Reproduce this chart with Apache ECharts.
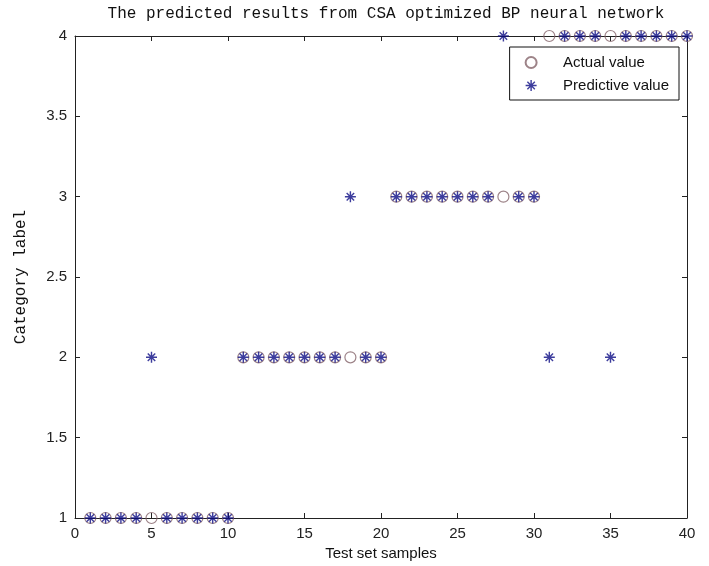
<!DOCTYPE html>
<html>
<head>
<meta charset="utf-8">
<script src="https://cdn.jsdelivr.net/npm/echarts@6/dist/echarts.min.js"></script>
<style>html,body{margin:0;padding:0;background:#fff}#c{width:709px;height:566px}</style>
</head>
<body>
<div id="c"></div>
<script>
var samples = [1,2,3,4,5,6,7,8,9,10,11,12,13,14,15,16,17,18,19,20,21,22,23,24,25,26,27,28,29,30,31,32,33,34,35,36,37,38,39,40];
var actualValues = [1,1,1,1,1,1,1,1,1,1, 2,2,2,2,2,2,2,2,2,2, 3,3,3,3,3,3,3,3,3,3, 4,4,4,4,4,4,4,4,4,4];
var predictedValues = [1,1,1,1,2,1,1,1,1,1, 2,2,2,2,2,2,2,3,2,2, 3,3,3,3,3,3,3,4,3,3, 2,4,4,4,2,4,4,4,4,4];
var titleText = 'The predicted results from CSA optimized BP neural network';
var xName = 'Test set samples';
var yName = 'Category label';
var seriesNames = ['Actual value', 'Predictive value'];

var star = 'path://M0,8.7L20,8.7L20,11.3L0,11.3Z M8.7,0L11.3,0L11.3,20L8.7,20Z M4.1,2.3L17.7,15.9L15.9,17.7L2.3,4.1Z M15.9,2.3L17.7,4.1L4.1,17.7L2.3,15.9Z M7.5,7.5L12.5,7.5L12.5,12.5L7.5,12.5Z';
var axisColor = '#222';
var tickFont = {color: '#222', fontFamily: 'Liberation Sans', fontSize: 15};

var chart = echarts.init(document.getElementById('c'), null, {renderer: 'canvas'});
chart.setOption({
  animation: false,
  backgroundColor: '#fff',
  title: {
    text: titleText, left: 381, top: 1, textAlign: 'center',
    textStyle: {fontFamily: 'Liberation Mono', fontWeight: 'normal', fontSize: 16, color: '#111'}
  },
  grid: {left: 75, right: 22, top: 36, bottom: 48},
  legend: {
    right: 30, top: 47, orient: 'vertical',
    backgroundColor: '#fff', borderColor: '#111', borderWidth: 1,
    padding: [8, 10, 7, 15], itemGap: 8, itemWidth: 54, itemHeight: 11,
    textStyle: {fontFamily: 'Liberation Sans', fontSize: 15, color: '#111'},
    data: seriesNames
  },
  xAxis: [{
    type: 'value', min: 0, max: 40, interval: 5, position: 'bottom',
    name: xName, nameLocation: 'middle', nameGap: 27,
    nameTextStyle: {fontFamily: 'Liberation Sans', fontSize: 15, color: '#111'},
    axisLine: {onZero: false, lineStyle: {color: axisColor, width: 1}},
    axisTick: {inside: true, length: 5, lineStyle: {color: axisColor}},
    axisLabel: Object.assign({margin: 8}, tickFont),
    splitLine: {show: false}
  }, {
    type: 'value', min: 0, max: 40, interval: 5, position: 'top',
    axisLine: {onZero: false, lineStyle: {color: axisColor, width: 1}},
    axisTick: {inside: true, length: 5, lineStyle: {color: axisColor}},
    axisLabel: {show: false}, splitLine: {show: false}
  }],
  yAxis: [{
    type: 'value', min: 1, max: 4, interval: 0.5, position: 'left',
    name: yName, nameLocation: 'middle', nameGap: 46, nameRotate: 90,
    nameTextStyle: {fontFamily: 'Liberation Mono', fontSize: 16, color: '#111'},
    axisLine: {show: true, onZero: false, lineStyle: {color: axisColor, width: 1}},
    axisTick: {show: true, inside: true, length: 5, lineStyle: {color: axisColor}},
    axisLabel: Object.assign({margin: 8}, tickFont),
    splitLine: {show: false}
  }, {
    type: 'value', min: 1, max: 4, interval: 0.5, position: 'right',
    axisLine: {show: true, onZero: false, lineStyle: {color: axisColor, width: 1}},
    axisTick: {show: true, inside: true, length: 5, lineStyle: {color: axisColor}},
    axisLabel: {show: false}, splitLine: {show: false}
  }],
  series: [{
    name: seriesNames[0], type: 'scatter', clip: false,
    symbol: 'circle', symbolSize: 11,
    itemStyle: {color: 'rgba(255,255,255,0)', borderColor: '#84646a', borderWidth: 1.2},
    data: samples.map(function (s, i) { return [s, actualValues[i]]; }),
    z: 3
  }, {
    name: seriesNames[1], type: 'scatter', clip: false,
    symbol: star, symbolSize: 11,
    itemStyle: {color: '#0c0c84'},
    data: samples.map(function (s, i) { return [s, predictedValues[i]]; }),
    z: 4
  }]
});
</script>
</body>
</html>
